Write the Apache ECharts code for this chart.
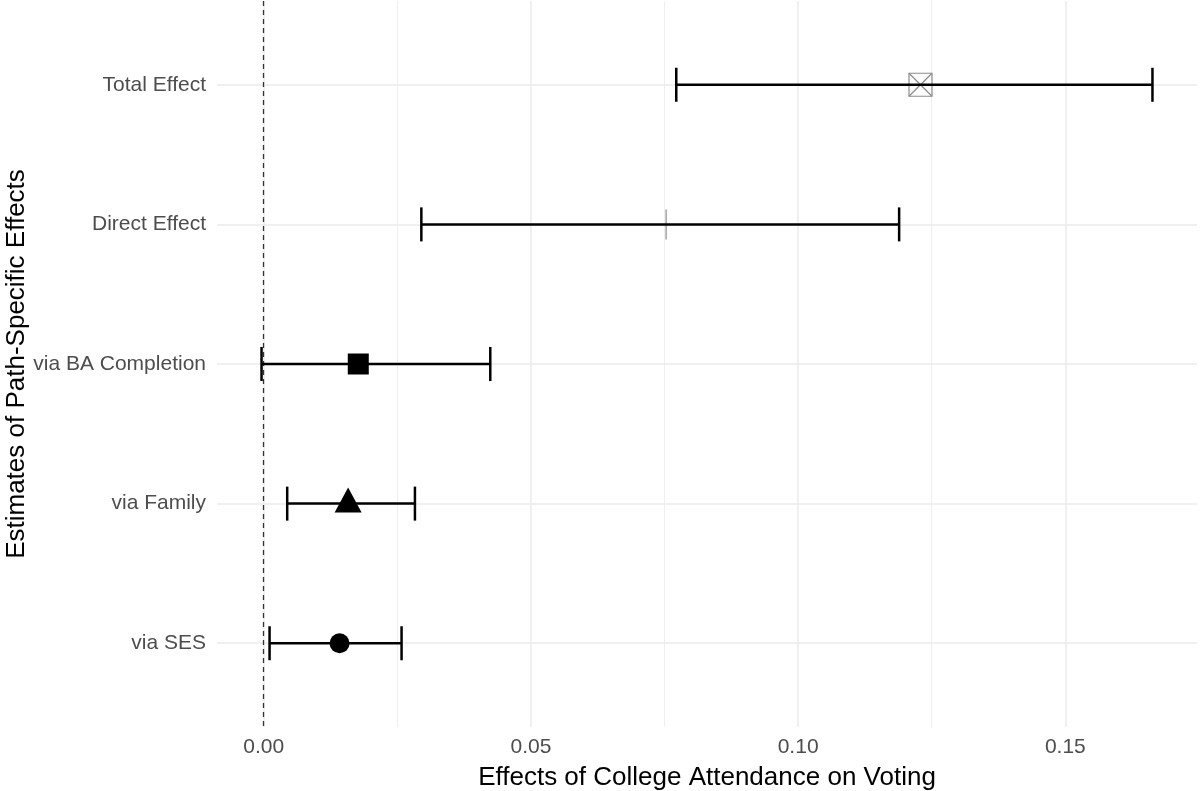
<!DOCTYPE html>
<html>
<head>
<meta charset="utf-8">
<title>Path-Specific Effects</title>
<script src="https://cdn.jsdelivr.net/npm/echarts@6/dist/echarts.min.js"></script>
<style>
  html, body { margin: 0; padding: 0; background: #ffffff; }
  #chart { width: 1200px; height: 791px; }
</style>
</head>
<body>
<div id="chart"></div>
<script>
// categories top to bottom
var categories = ['Total Effect', 'Direct Effect', 'via BA Completion', 'via Family', 'via SES'];
var estimates = [0.1229, 0.0753, 0.0177, 0.0158, 0.0142];
var lower = [0.0772, 0.0295, -0.0004, 0.0044, 0.0011];
var upper = [0.1663, 0.1189, 0.0424, 0.0283, 0.0258];
var xMajorTicks = [0, 0.05, 0.10, 0.15];
var xMinorTicks = [0.025, 0.075, 0.125];
var refLine = 0;

// marker shape per row (style, not data)
var markerShapes = ['boxX', 'vline', 'square', 'triangle', 'circle'];

// ggplot-like 5% expansion of the x range
var xLo = Math.min.apply(null, lower);
var xHi = Math.max.apply(null, upper);
var pad = (xHi - xLo) * 0.05;

var chart = echarts.init(document.getElementById('chart'));

var rows = categories.map(function (c, i) {
  return [estimates[i], i, lower[i], upper[i]];
});

function drawMarker(shape, x, y) {
  var grey = '#8c8c8c';
  if (shape === 'boxX') {
    return [
      { type: 'rect', shape: { x: x - 11.5, y: y - 11.5, width: 23, height: 23 },
        style: { fill: 'none', stroke: grey, lineWidth: 1.2 } },
      { type: 'line', shape: { x1: x - 11.5, y1: y - 11.5, x2: x + 11.5, y2: y + 11.5 },
        style: { stroke: grey, lineWidth: 1.2 } },
      { type: 'line', shape: { x1: x - 11.5, y1: y + 11.5, x2: x + 11.5, y2: y - 11.5 },
        style: { stroke: grey, lineWidth: 1.2 } }
    ];
  }
  if (shape === 'vline') {
    return [{ type: 'line', shape: { x1: x, y1: y - 15, x2: x, y2: y + 15 },
      style: { stroke: grey, lineWidth: 1.2 } }];
  }
  if (shape === 'square') {
    return [{ type: 'rect', shape: { x: x - 10.5, y: y - 10.5, width: 21, height: 21 },
      style: { fill: '#000' } }];
  }
  if (shape === 'triangle') {
    return [{ type: 'polygon', shape: { points: [[x, y - 16], [x - 13.5, y + 9], [x + 13.5, y + 9]] },
      style: { fill: '#000' } }];
  }
  return [{ type: 'circle', shape: { cx: x, cy: y, r: 10 }, style: { fill: '#000' } }];
}

var option = {
  backgroundColor: '#ffffff',
  animation: false,
  grid: { left: 217, right: 3, top: 1, bottom: 64, outerBoundsMode: 'none', containLabel: false },
  xAxis: {
    type: 'value',
    min: xLo - pad,
    max: xHi + pad,
    minInterval: 0.05,
    maxInterval: 0.05,
    name: 'Effects of College Attendance on Voting',
    nameLocation: 'middle',
    nameGap: 38,
    nameMoveOverlap: false,
    nameTextStyle: { fontFamily: 'Liberation Sans', fontSize: 26, color: '#000' },
    axisLine: { show: false },
    axisTick: { show: false },
    splitLine: { show: false },
    axisLabel: {
      fontFamily: 'Liberation Sans', fontSize: 21, color: '#4d4d4d', margin: 10,
      showMinLabel: true, showMaxLabel: true,
      formatter: function (v) {
        for (var k = 0; k < xMajorTicks.length; k++) {
          if (Math.abs(v - xMajorTicks[k]) < 1e-9) return xMajorTicks[k].toFixed(2);
        }
        return '';
      }
    }
  },
  yAxis: {
    type: 'value',
    inverse: true,
    min: -0.6,
    max: categories.length - 0.4,
    minInterval: 1,
    maxInterval: 1,
    name: 'Estimates of Path-Specific Effects',
    nameLocation: 'middle',
    nameGap: 187,
    nameMoveOverlap: false,
    nameTextStyle: { fontFamily: 'Liberation Sans', fontSize: 26, color: '#000' },
    axisLine: { show: false },
    axisTick: { show: false },
    splitLine: { show: false },
    axisLabel: {
      fontFamily: 'Liberation Sans', fontSize: 21, color: '#4d4d4d', margin: 11,
      formatter: function (v) {
        var r = Math.round(v);
        return Math.abs(v - r) < 1e-9 && categories[r] ? categories[r] : '';
      }
    }
  },
  series: [
    {
      // grid lines and reference line
      type: 'line',
      data: [],
      silent: true,
      z: 1,
      markLine: {
        silent: true,
        symbol: 'none',
        precision: 6,
        label: { show: false },
        animation: false,
        data: []
          .concat(xMinorTicks.map(function (v) {
            return { xAxis: v, lineStyle: { color: '#ebebeb', width: 0.8, type: 'solid' } };
          }))
          .concat(xMajorTicks.map(function (v) {
            return { xAxis: v, lineStyle: { color: '#ebebeb', width: 1.5, type: 'solid' } };
          }))
          .concat(categories.map(function (c, i) {
            return { yAxis: i, lineStyle: { color: '#ebebeb', width: 1.5, type: 'solid' } };
          }))
          .concat([{ xAxis: refLine, lineStyle: { color: '#333333', width: 1.3, type: [5, 4] } }])
      }
    },
    {
      type: 'custom',
      z: 5,
      data: rows,
      encode: { x: 0, y: 1 },
      renderItem: function (params, api) {
        var i = api.value(1);
        var p = api.coord([api.value(0), i]);
        var xl = api.coord([api.value(2), i])[0];
        var xh = api.coord([api.value(3), i])[0];
        var y = p[1];
        var cap = 17;
        var bar = { stroke: '#000', lineWidth: 2.5 };
        var children = drawMarker(markerShapes[i], p[0], y).concat([
          { type: 'line', shape: { x1: xl, y1: y, x2: xh, y2: y }, style: bar },
          { type: 'line', shape: { x1: xl, y1: y - cap, x2: xl, y2: y + cap }, style: bar },
          { type: 'line', shape: { x1: xh, y1: y - cap, x2: xh, y2: y + cap }, style: bar }
        ]);
        return { type: 'group', children: children };
      }
    }
  ]
};

chart.setOption(option);
</script>
</body>
</html>
